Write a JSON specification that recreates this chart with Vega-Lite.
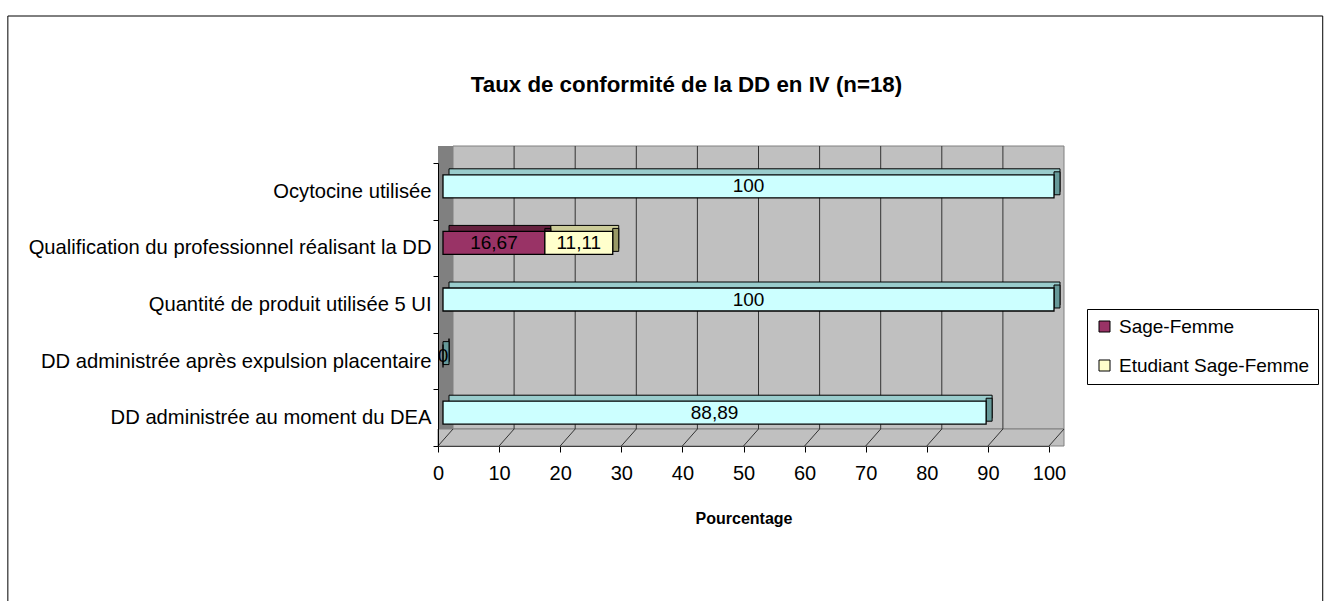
{
  "$schema": "https://vega.github.io/schema/vega-lite/v6.json",
  "autosize": {"type": "none"},
  "padding": {"left": 438, "top": 163, "right": 286, "bottom": 155},
  "width": 611,
  "height": 283,
  "background": "white",
  "config": {
    "font": "Liberation Sans",
    "view": {"stroke": null}
  },
  "title": {
    "text": "Taux de conformité de la DD en IV (n=18)",
    "font": "Liberation Sans",
    "fontSize": 22.3,
    "fontWeight": "bold",
    "color": "black",
    "anchor": "middle",
    "frame": "group",
    "dx": -57,
    "offset": -81
  },
  "datasets": {
    "rows": [
      {"cat": "Ocytocine utilisée", "series": "Taux", "value": 100, "label": "100"},
      {"cat": "Qualification du professionnel réalisant la DD", "series": "Sage-Femme", "value": 16.67, "label": "16,67"},
      {"cat": "Qualification du professionnel réalisant la DD", "series": "Etudiant Sage-Femme", "value": 11.11, "label": "11,11"},
      {"cat": "Quantité de produit utilisée 5 UI", "series": "Taux", "value": 100, "label": "100"},
      {"cat": "DD administrée après expulsion placentaire", "series": "Taux", "value": 0, "label": "0"},
      {"cat": "DD administrée au moment du DEA", "series": "Taux", "value": 88.89, "label": "88,89"}
    ],
    "ticks": [
      {"t": 0}, {"t": 10}, {"t": 20}, {"t": 30}, {"t": 40}, {"t": 50},
      {"t": 60}, {"t": 70}, {"t": 80}, {"t": 90}, {"t": 100}
    ]
  },
  "layer": [
    {
      "data": {"values": [{}]},
      "mark": {"type": "rect", "fill": null, "stroke": "black", "strokeWidth": 1, "yOffset": -147, "y2Offset": 200, "clip": false},
      "encoding": {
        "x": {"datum": -70.4, "type": "quantitative", "scale": {"domain": [0, 100], "nice": false, "zero": false}},
        "x2": {"datum": 144.8},
        "y": {"datum": "Ocytocine utilisée", "type": "nominal", "bandPosition": 0,
              "scale": {"domain": ["Ocytocine utilisée", "Qualification du professionnel réalisant la DD", "Quantité de produit utilisée 5 UI", "DD administrée après expulsion placentaire", "DD administrée au moment du DEA"], "paddingInner": 0, "paddingOuter": 0}},
        "y2": {"datum": "DD administrée au moment du DEA", "bandPosition": 1}
      }
    },
    {
      "data": {"values": [{}]},
      "mark": {"type": "rect", "fill": "#C0C0C0", "stroke": "#808080", "strokeWidth": 1, "xOffset": 15, "x2Offset": 15, "yOffset": -17, "y2Offset": -17},
      "encoding": {
        "x": {"datum": 0, "type": "quantitative"},
        "x2": {"datum": 100},
        "y": {"datum": "Ocytocine utilisée", "type": "nominal", "bandPosition": 0},
        "y2": {"datum": "DD administrée au moment du DEA", "bandPosition": 1}
      }
    },
    {
      "data": {"values": [{}]},
      "mark": {"type": "rect", "fill": "#808080", "x2Offset": 15, "yOffset": -17},
      "encoding": {
        "x": {"datum": 0, "type": "quantitative"},
        "x2": {"datum": 0},
        "y": {"datum": "Ocytocine utilisée", "type": "nominal", "bandPosition": 0},
        "y2": {"datum": "DD administrée au moment du DEA", "bandPosition": 1}
      }
    },
    {
      "data": {"values": [{}]},
      "mark": {"type": "rect", "fill": "#C0C0C0", "stroke": "#808080", "strokeWidth": 1, "x2Offset": 15, "yOffset": -17},
      "encoding": {
        "x": {"datum": 0, "type": "quantitative"},
        "x2": {"datum": 100},
        "y": {"datum": "DD administrée au moment du DEA", "type": "nominal", "bandPosition": 1},
        "y2": {"datum": "DD administrée au moment du DEA", "bandPosition": 1}
      }
    },
    {
      "data": {"name": "ticks"},
      "transform": [{"filter": {"field": "t", "range": [5, 95]}}],
      "mark": {"type": "rule", "color": "#333333", "strokeWidth": 1, "xOffset": 15, "x2Offset": 15, "yOffset": -17, "y2Offset": -17},
      "encoding": {
        "x": {"field": "t", "type": "quantitative"},
        "x2": {"field": "t"},
        "y": {"datum": "Ocytocine utilisée", "type": "nominal", "bandPosition": 0},
        "y2": {"datum": "DD administrée au moment du DEA", "bandPosition": 1}
      }
    },
    {
      "data": {"name": "ticks"},
      "mark": {"type": "rule", "color": "#333333", "strokeWidth": 1, "x2Offset": 15, "y2Offset": -17},
      "encoding": {
        "x": {"field": "t", "type": "quantitative"},
        "x2": {"field": "t"},
        "y": {"datum": "DD administrée au moment du DEA", "type": "nominal", "bandPosition": 1},
        "y2": {"datum": "DD administrée au moment du DEA", "bandPosition": 1}
      }
    },
    {
      "data": {"name": "rows"},
      "transform": [
        {"stack": "value", "groupby": ["cat"], "sort": [{"field": "series", "order": "descending"}], "as": ["x0", "x1"]}
      ],
      "mark": {"type": "bar", "height": {"band": 0.406}, "xOffset": 11, "x2Offset": 11, "yOffset": -11, "stroke": "black", "strokeWidth": 1},
      "encoding": {
        "x": {"field": "x0", "type": "quantitative"},
        "x2": {"field": "x1"},
        "y": {"field": "cat", "type": "nominal", "sort": null},
        "color": {
          "field": "series", "type": "nominal", "legend": null,
          "scale": {"domain": ["Sage-Femme", "Etudiant Sage-Femme", "Taux"], "range": ["#66213F", "#CCCC99", "#99CCCC"]}
        }
      }
    },
    {
      "data": {"name": "rows"},
      "transform": [
        {"stack": "value", "groupby": ["cat"], "sort": [{"field": "series", "order": "descending"}], "as": ["x0", "x1"]}
      ],
      "mark": {"type": "bar", "height": {"band": 0.406}, "xOffset": 5, "x2Offset": 11, "yOffset": -8, "stroke": "black", "strokeWidth": 1},
      "encoding": {
        "x": {"field": "x1", "type": "quantitative"},
        "x2": {"field": "x1"},
        "y": {"field": "cat", "type": "nominal", "sort": null},
        "color": {
          "field": "series", "type": "nominal", "legend": null,
          "scale": {"domain": ["Sage-Femme", "Etudiant Sage-Femme", "Taux"], "range": ["#4C1830", "#999966", "#669999"]}
        }
      }
    },
    {
      "data": {"name": "rows"},
      "transform": [
        {"stack": "value", "groupby": ["cat"], "sort": [{"field": "series", "order": "descending"}], "as": ["x0", "x1"]}
      ],
      "mark": {"type": "bar", "height": {"band": 0.406}, "xOffset": 5, "x2Offset": 5, "yOffset": -5, "stroke": "black", "strokeWidth": 1.3},
      "encoding": {
        "x": {
          "field": "x0", "type": "quantitative",
          "axis": {
            "values": [0, 10, 20, 30, 40, 50, 60, 70, 80, 90, 100],
            "grid": false, "domainColor": "black", "tickColor": "black", "tickSize": 6, "labelFlush": false,
            "labelFontSize": 20, "labelColor": "black", "labelPadding": 11, "labelFont": "Liberation Sans",
            "title": "Pourcentage", "titleFontSize": 16, "titleFontWeight": "bold", "titleColor": "black", "titlePadding": 27, "titleFont": "Liberation Sans"
          }
        },
        "x2": {"field": "x1"},
        "y": {
          "field": "cat", "type": "nominal", "sort": null,
          "axis": {
            "title": null, "tickBand": "extent", "tickSize": 5, "tickColor": "black", "domainColor": "black",
            "labelPadding": 2, "labelFontSize": 20.2, "labelColor": "black", "labelLimit": 1000, "labelFont": "Liberation Sans"
          }
        },
        "color": {
          "field": "series", "type": "nominal",
          "scale": {"domain": ["Sage-Femme", "Etudiant Sage-Femme", "Taux"], "range": ["#993366", "#FFFFCC", "#CCFFFF"]},
          "legend": {
            "values": ["Sage-Femme", "Etudiant Sage-Femme"],
            "title": null, "orient": "none", "legendX": 649, "legendY": 146,
            "strokeColor": "black", "fillColor": "white", "padding": 8,
            "symbolType": "square", "symbolSize": 121, "symbolStrokeColor": "black", "symbolStrokeWidth": 1,
            "labelFontSize": 19, "labelColor": "black", "labelFont": "Liberation Sans", "labelLimit": 400, "rowPadding": 19, "labelOffset": 5
          }
        }
      }
    },
    {
      "data": {"name": "rows"},
      "transform": [
        {"stack": "value", "groupby": ["cat"], "sort": [{"field": "series", "order": "descending"}], "as": ["x0", "x1"]},
        {"fold": ["x0", "x1"], "as": ["k", "v"]},
        {"aggregate": [{"op": "mean", "field": "v", "as": "mid"}], "groupby": ["cat", "series", "label"]}
      ],
      "mark": {"type": "text", "fontSize": 19, "color": "black", "dx": 5, "dy": -5, "baseline": "middle", "align": "center"},
      "encoding": {
        "x": {"field": "mid", "type": "quantitative"},
        "y": {"field": "cat", "type": "nominal", "sort": null},
        "text": {"field": "label"}
      }
    }
  ],
  "resolve": {"scale": {"color": "independent"}}
}
